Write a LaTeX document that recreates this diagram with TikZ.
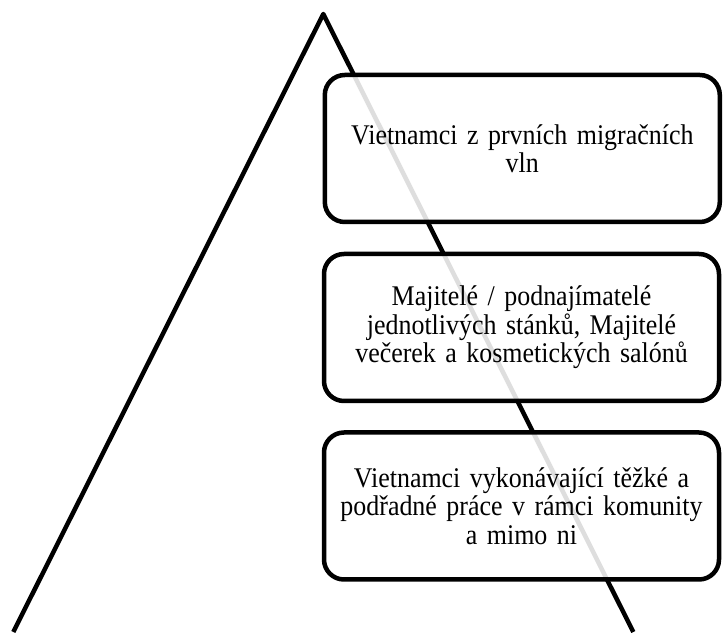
\documentclass[tikz,border=0pt]{standalone}
\usepackage{fontspec}
\setmainfont{Liberation Serif}[FakeStretch=0.91]

\tikzset{
	tier/.style={draw, line width=4.5pt, rounded corners=20pt, fill=white, fill opacity=0.87, text opacity=1,
		minimum width=395pt, minimum height=147pt, text width=372pt, align=center, inner sep=0pt,
		font=\fontsize{28.5}{28.5}\selectfont},
	side/.style={line width=4.5pt, line join=round}
}

\begin{document}
\begin{tikzpicture}[x=1pt,y=1pt]

	\useasboundingbox (0,0) rectangle (723,632);
	\clip (0,0) rectangle (723,632);

	\coordinate (apex) at (323.3,618);
	\coordinate (footL) at (13.3,0);
	\coordinate (footR) at (633.3,0);

	\coordinate (T1) at (522.3,483.5);
	\coordinate (T2) at (521.5,304.5);
	\coordinate (T3) at (521.5,126);

	\draw [side] (footL) -- (apex) -- (footR);

	\node [tier] (top) at (T1) {Vietnamci z prvních migračních\\vln};
	\node [tier] (mid) at (T2) {Majitelé / podnajímatelé\\jednotlivých stánků, Majitelé\\večerek a kosmetických salónů};
	\node [tier] (low) at (T3) {Vietnamci vykonávající těžké a\\podřadné práce v rámci komunity\\a mimo ni};

\end{tikzpicture}
\end{document}
